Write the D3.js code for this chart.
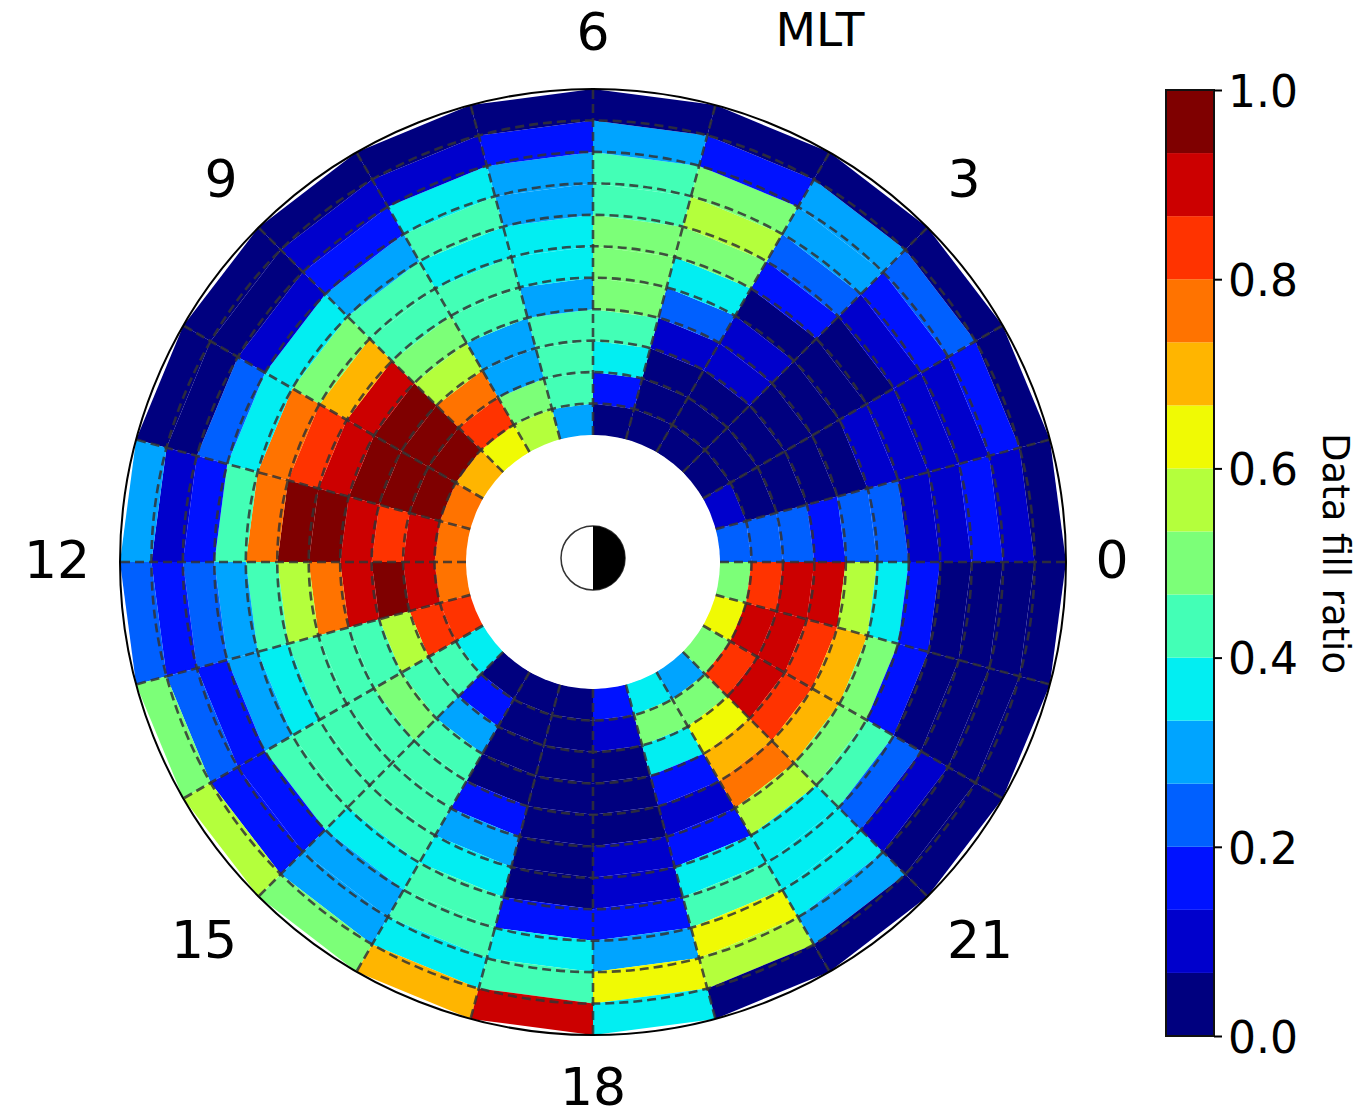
<!DOCTYPE html>
<meta charset="utf-8">
<style>
  body { margin: 0; background: white; }
  svg { display: block; }
  text { font-family: "DejaVu Sans", sans-serif; fill: black; }
  .hour { font-size: 52px; text-anchor: middle; }
  .grid { fill: none; stroke: #333; stroke-width: 2.6; stroke-dasharray: 9 5; stroke-opacity: 0.85; }
  .cbar text { font-size: 44px; }
</style>
<script src="https://d3js.org/d3.v7.min.js" charset="utf-8"></script>
<body>
<script>

  // fill ratio per MLT hour, innermost ring first
  var mlt00 = [.23,.23,.23,.17,.23,.23,.10,.10,.17,.10,.03];
  var mlt01 = [.10,.03,.03,.03,.03,.10,.10,.10,.10,.17,.03];
  var mlt02 = [.03,.03,.03,.03,.03,.03,.03,.10,.17,.23,.03];
  var mlt03 = [.03,.03,.03,.10,.10,.03,.17,.23,.30,.30,.03];
  var mlt04 = [.03,.03,.03,.10,.23,.37,.50,.57,.50,.17,.03];
  var mlt05 = [.03,.17,.37,.43,.50,.50,.50,.43,.43,.30,.03];
  var mlt06 = [.30,.43,.43,.43,.30,.37,.37,.30,.30,.17,.03];
  var mlt07 = [.57,.50,.30,.30,.43,.43,.37,.43,.37,.10,.03];
  var mlt08 = [.63,.83,.77,.57,.50,.43,.43,.30,.17,.10,.03];
  var mlt09 = [.70,.97,.97,.97,.90,.70,.50,.37,.10,.03,.03];
  var mlt10 = [.77,.97,.97,.97,.90,.83,.77,.37,.23,.03,.03];
  var mlt11 = [.77,.90,.83,.90,.97,.97,.77,.43,.17,.10,.30];
  var mlt12 = [.77,.90,.97,.90,.77,.57,.43,.30,.23,.17,.23];
  var mlt13 = [.83,.83,.57,.43,.43,.43,.37,.30,.17,.23,.50];
  var mlt14 = [.37,.43,.43,.50,.43,.43,.43,.43,.17,.17,.57];
  var mlt15 = [.03,.17,.30,.43,.43,.43,.43,.37,.30,.30,.50];
  var mlt16 = [.03,.03,.03,.03,.17,.30,.37,.43,.43,.37,.70];
  var mlt17 = [.03,.03,.03,.03,.03,.03,.03,.17,.37,.43,.90];
  var mlt18 = [.17,.10,.03,.03,.03,.10,.10,.17,.30,.63,.37];
  var mlt19 = [.37,.50,.37,.17,.10,.17,.37,.43,.63,.57,.03];
  var mlt20 = [.30,.50,.63,.70,.77,.57,.37,.37,.37,.30,.03];
  var mlt21 = [.50,.83,.90,.83,.70,.50,.43,.23,.10,.03,.03];
  var mlt22 = [.63,.90,.90,.83,.70,.50,.17,.03,.03,.03,.03];
  var mlt23 = [.50,.83,.90,.90,.57,.37,.17,.03,.03,.03,.03];

  var fillRatio = [mlt00, mlt01, mlt02, mlt03, mlt04, mlt05, mlt06, mlt07,
                   mlt08, mlt09, mlt10, mlt11, mlt12, mlt13, mlt14, mlt15,
                   mlt16, mlt17, mlt18, mlt19, mlt20, mlt21, mlt22, mlt23];

  var hourTicks = [0, 3, 6, 9, 12, 15, 18, 21];
  var cbarTicks = [0, 0.2, 0.4, 0.6, 0.8, 1];
  var jet15 = ["#00007f", "#0000cc", "#0012ff", "#0060ff", "#00a4ff",
               "#02eef2", "#43ffb6", "#7cff78", "#b4ff3c", "#f0fa04",
               "#ffb500", "#ff7300", "#ff3300", "#cc0000", "#7f0000"];

  var w = 1357;
  var h = 1108;
  var cx = 593;
  var cy = 562;
  var innerR = 127;
  var outerR = 473;
  var nRings = mlt00.length;

  // hand placed because the labels sit unevenly around the circle
  var tickDx = [519, 371, 0, -372, -536, -389, 0, 387];
  var tickDy = [-3, -384, -531, -384, -3, 377, 524, 377];

  var svg = d3.select("body").append("svg")
              .attr("width", w)
              .attr("height", h);

  var color = d3.scaleQuantize().domain([0, 1]).range(jet15);
  var angle = d3.scaleLinear().domain([0, 24]).range([Math.PI / 2, Math.PI / 2 - 2 * Math.PI]);
  var radius = d3.scaleLinear().domain([0, nRings]).range([innerR, outerR]);

  var polar = svg.append("g").attr("transform", "translate(" + cx + "," + cy + ")");

  // cells have straight edges, the grid on top is curved
  var quad = d3.lineRadial()
               .angle(function (d) { return angle(d[0]); })
               .radius(function (d) { return radius(d[1]); })
               .curve(d3.curveLinearClosed);

  var cells = [];
  fillRatio.forEach(function (row, hour) {
    row.forEach(function (v, ring) {
      cells.push({ hour: hour, ring: ring, value: v });
    });
  });

  polar.selectAll("path.cell")
       .data(cells)
       .enter()
       .append("path")
       .attr("class", "cell")
       .attr("fill", function (d) { return color(d.value); })
       .attr("d", function (d) {
         return quad([[d.hour, d.ring], [d.hour + 1, d.ring],
                      [d.hour + 1, d.ring + 1], [d.hour, d.ring + 1]]);
       });

  polar.append("circle").attr("r", innerR).attr("fill", "white");

  polar.selectAll("circle.grid")
       .data(d3.range(1, nRings))
       .enter()
       .append("circle")
       .attr("class", "grid")
       .attr("r", function (d) { return radius(d); });

  polar.selectAll("line.grid")
       .data(d3.range(0, 24))
       .enter()
       .append("line")
       .attr("class", "grid")
       .attr("x1", function (d) { return innerR * Math.sin(angle(d)); })
       .attr("y1", function (d) { return -innerR * Math.cos(angle(d)); })
       .attr("x2", function (d) { return outerR * Math.sin(angle(d)); })
       .attr("y2", function (d) { return -outerR * Math.cos(angle(d)); });

  polar.append("circle")
       .attr("r", outerR)
       .attr("fill", "none")
       .attr("stroke", "black")
       .attr("stroke-width", 2);

  polar.selectAll("text.hour")
       .data(hourTicks)
       .enter()
       .append("text")
       .attr("class", "hour")
       .attr("x", function (d, i) { return tickDx[i]; })
       .attr("y", function (d, i) { return tickDy[i]; })
       .attr("dy", "0.36em")
       .text(function (d) { return d; });

  svg.append("text")
     .attr("x", 820)
     .attr("y", 46)
     .attr("text-anchor", "middle")
     .style("font-size", "47px")
     .text("MLT");

  // day / night symbol
  var sun = polar.append("g").attr("transform", "translate(0,-4)");
  sun.append("circle").attr("r", 32).attr("fill", "white")
     .attr("stroke", "#333").attr("stroke-width", 1.5);
  sun.append("path")
     .attr("fill", "black")
     .attr("d", d3.arc()({ innerRadius: 0, outerRadius: 32, startAngle: 0, endAngle: Math.PI }));

  // colorbar
  var cbarX = 1166;
  var cbarW = 48;
  var cbarY = d3.scaleLinear().domain([0, 1]).range([1036, 90]);

  svg.selectAll("rect.level")
     .data(jet15)
     .enter()
     .append("rect")
     .attr("class", "level")
     .attr("x", cbarX)
     .attr("width", cbarW)
     .attr("y", function (d) { return cbarY(color.invertExtent(d)[1]); })
     .attr("height", function (d) {
       var e = color.invertExtent(d);
       return cbarY(e[0]) - cbarY(e[1]);
     })
     .attr("fill", function (d) { return d; });

  svg.append("rect")
     .attr("x", cbarX)
     .attr("y", cbarY(1))
     .attr("width", cbarW)
     .attr("height", cbarY(0) - cbarY(1))
     .attr("fill", "none")
     .attr("stroke", "#111")
     .attr("stroke-width", 2);

  var cbarAxis = d3.axisRight(cbarY)
                   .tickValues(cbarTicks)
                   .tickFormat(d3.format(".1f"))
                   .tickSize(8)
                   .tickPadding(6);

  var cbarG = svg.append("g")
                 .attr("class", "cbar")
                 .attr("transform", "translate(" + (cbarX + cbarW) + ",0)")
                 .call(cbarAxis);
  cbarG.select(".domain").remove();
  cbarG.selectAll("line").attr("stroke", "black").attr("stroke-width", 2);
  cbarG.selectAll("text").attr("fill", "black").attr("dy", "0.37em");

  svg.append("text")
     .attr("transform", "translate(1323,553.5) rotate(90)")
     .attr("text-anchor", "middle")
     .style("font-size", "37px")
     .text("Data fill ratio");

</script>
</body>
